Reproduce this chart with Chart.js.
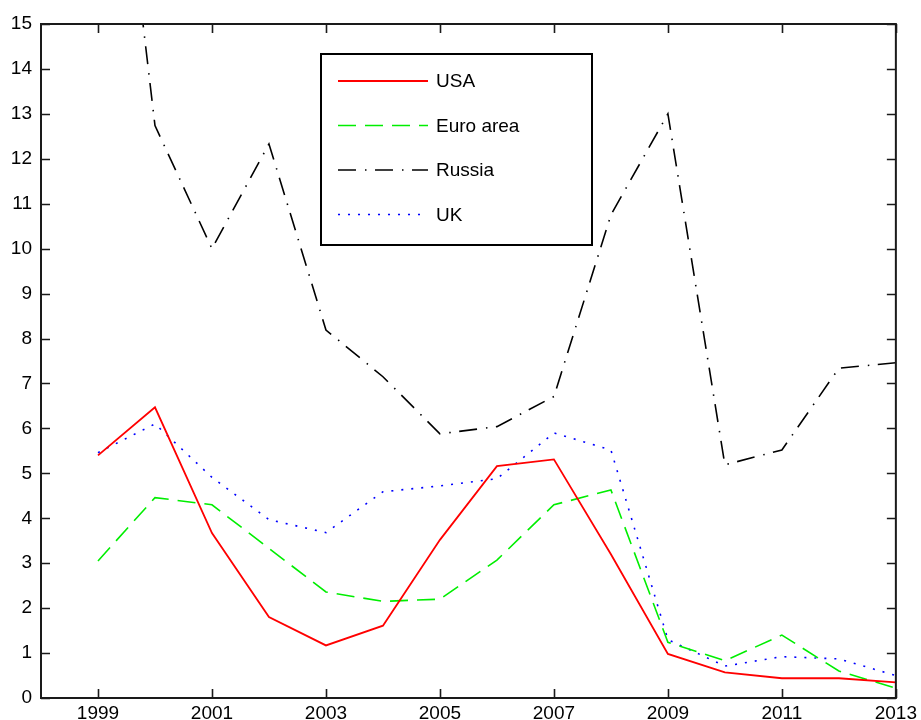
<!DOCTYPE html>
<html>
<head>
<meta charset="utf-8">
<script src="https://cdn.jsdelivr.net/npm/chart.js@4.4.1/dist/chart.umd.min.js"></script>
<style>
  body { margin: 0; background: #fff; }
  #wrap { width: 921px; height: 720px; position: relative; }
</style>
</head>
<body>
<div id="wrap"><canvas id="chart"></canvas></div>
<script>
// values, one per year
const years = [1999, 2000, 2001, 2002, 2003, 2004, 2005, 2006, 2007, 2008, 2009, 2010, 2011, 2012, 2013];
const usa = [5.4, 6.47, 3.67, 1.8, 1.17, 1.61, 3.52, 5.16, 5.31, 3.2, 0.98, 0.57, 0.44, 0.44, 0.35];
const euroArea = [3.05, 4.46, 4.3, 3.33, 2.36, 2.15, 2.2, 3.07, 4.3, 4.63, 1.24, 0.83, 1.4, 0.6, 0.22];
const russia = [23.5, 12.74, 10.0, 12.33, 8.19, 7.15, 5.88, 6.04, 6.71, 10.75, 13.0, 5.19, 5.52, 7.34, 7.46];
const uk = [5.46, 6.1, 4.91, 3.97, 3.68, 4.59, 4.72, 4.88, 5.9, 5.52, 1.3, 0.71, 0.92, 0.87, 0.5];
const xTickYears = [1999, 2001, 2003, 2005, 2007, 2009, 2011, 2013];

const FONT = '"Liberation Sans", Arial, sans-serif';

function pairs(vals) {
    return years.map((yr, i) => ({ x: yr, y: vals[i] }));
}

// box round the plot plus inward tick marks on all four sides
const boxAndTicks = {
    id: 'boxAndTicks',
    afterDatasetsDraw(chart) {
        const { ctx, chartArea: a, scales } = chart;
        const len = 9;
        ctx.save();
        ctx.strokeStyle = '#1a1a1a';
        ctx.lineWidth = 1.6;
        ctx.beginPath();
        scales.x.ticks.forEach(t => {
            const px = Math.round(scales.x.getPixelForValue(t.value)) + 0.5;
            ctx.moveTo(px, a.bottom); ctx.lineTo(px, a.bottom - len);
            ctx.moveTo(px, a.top); ctx.lineTo(px, a.top + len);
        });
        scales.y.ticks.forEach(t => {
            const py = Math.round(scales.y.getPixelForValue(t.value)) + 0.5;
            ctx.moveTo(a.left, py); ctx.lineTo(a.left + len, py);
            ctx.moveTo(a.right, py); ctx.lineTo(a.right - len, py);
        });
        ctx.stroke();
        ctx.lineWidth = 2;
        ctx.strokeRect(a.left, a.top, a.right - a.left, a.bottom - a.top);
        ctx.restore();
    }
};

// legend box drawn inside the plot, samples use each dataset's own style
const boxLegend = {
    id: 'boxLegend',
    afterDraw(chart, args, opts) {
        const ctx = chart.ctx;
        ctx.save();
        ctx.fillStyle = '#fff';
        ctx.fillRect(opts.left, opts.top, opts.width, opts.height);
        ctx.strokeStyle = '#000';
        ctx.lineWidth = 2;
        ctx.strokeRect(opts.left, opts.top, opts.width, opts.height);
        chart.data.datasets.forEach((ds, i) => {
            const yy = opts.firstRow + i * opts.rowGap;
            ctx.beginPath();
            ctx.strokeStyle = ds.borderColor;
            ctx.lineWidth = ds.borderWidth;
            ctx.setLineDash(ds.borderDash || []);
            ctx.moveTo(opts.lineX0, yy);
            ctx.lineTo(opts.lineX1, yy);
            ctx.stroke();
            ctx.setLineDash([]);
            ctx.fillStyle = '#000';
            ctx.font = '19px ' + FONT;
            ctx.textBaseline = 'middle';
            ctx.fillText(ds.label, opts.textX, yy + 1);
        });
        ctx.restore();
    }
};

const ctx = document.getElementById('chart').getContext('2d');
const chart = new Chart(ctx, {
    type: 'line',
    data: {
        datasets: [
            { label: 'USA', data: pairs(usa), borderColor: '#ff0000', borderWidth: 1.8 },
            { label: 'Euro area', data: pairs(euroArea), borderColor: '#00ee00', borderWidth: 1.6, borderDash: [18, 9] },
            { label: 'Russia', data: pairs(russia), borderColor: '#000000', borderWidth: 1.6, borderDash: [18, 9, 1.5, 8.5] },
            { label: 'UK', data: pairs(uk), borderColor: '#0000ff', borderWidth: 1.6, borderDash: [2, 8] }
        ]
    },
    options: {
        responsive: true,
        maintainAspectRatio: false,
        animation: false,
        layout: { padding: { left: 0, top: 24, right: 24, bottom: 0 } },
        elements: { point: { radius: 0 }, line: { tension: 0, fill: false, borderCapStyle: 'butt' } },
        scales: {
            x: {
                type: 'linear',
                min: 1998,
                max: 2013,
                grid: { display: false, drawTicks: false },
                border: { display: false },
                afterBuildTicks: (scale) => { scale.ticks = xTickYears.map(v => ({ value: v })); },
                afterFit: (scale) => { scale.height = 22; },
                ticks: {
                    autoSkip: false,
                    maxRotation: 0,
                    padding: 4,
                    color: '#000',
                    font: { family: FONT, size: 19 },
                    callback: (v) => String(v)
                }
            },
            y: {
                min: 0,
                max: 15,
                grid: { display: false, drawTicks: false },
                border: { display: false },
                afterFit: (scale) => { scale.width = 41; },
                ticks: {
                    stepSize: 1,
                    padding: 9,
                    color: '#000',
                    font: { family: FONT, size: 19 }
                }
            }
        },
        plugins: {
            legend: { display: false },
            tooltip: { enabled: false },
            boxLegend: {
                left: 321, top: 54, width: 271, height: 191,
                firstRow: 81, rowGap: 44.5,
                lineX0: 338, lineX1: 428, textX: 436
            }
        }
    },
    plugins: [boxAndTicks, boxLegend]
});
</script>
</body>
</html>
